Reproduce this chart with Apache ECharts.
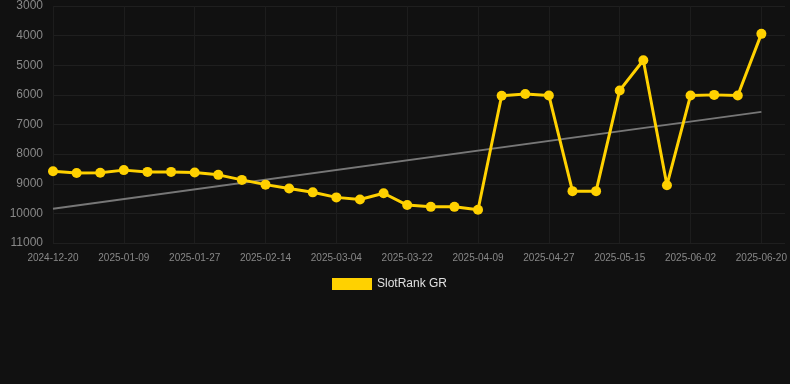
<!DOCTYPE html>
<html>
<head>
<meta charset="utf-8">
<style>
html,body{margin:0;padding:0;background:#111111;}
#chart{width:790px;height:384px;}
</style>
<script src="https://cdn.jsdelivr.net/npm/echarts@6/dist/echarts.min.js"></script>
</head>
<body>
<div id="chart"></div>
<script>
var dates = ['2024-12-20','2024-12-27','2025-01-03','2025-01-09','2025-01-15','2025-01-21','2025-01-27','2025-02-02','2025-02-08','2025-02-14','2025-02-20','2025-02-26','2025-03-04','2025-03-10','2025-03-16','2025-03-22','2025-03-28','2025-04-03','2025-04-09','2025-04-15','2025-04-21','2025-04-27','2025-05-03','2025-05-09','2025-05-15','2025-05-21','2025-05-27','2025-06-02','2025-06-08','2025-06-14','2025-06-20'];
var rankValues = [8580,8640,8630,8540,8600,8600,8620,8700,8870,9030,9160,9290,9460,9530,9320,9720,9780,9780,9880,6030,5970,6020,9250,9250,5850,4830,9050,6020,6000,6020,3940];
var trendStart = 9845;
var trendEnd = 6574;
var yTicks = [3000,4000,5000,6000,7000,8000,9000,10000,11000];

var trendData = dates.map(function(d, i){
  if (i === 0) return trendStart;
  if (i === dates.length - 1) return trendEnd;
  return null;
});

var chart = echarts.init(document.getElementById('chart'), null, {renderer:'canvas'});
var font = 'Liberation Sans, Arial, sans-serif';
chart.setOption({
  backgroundColor: '#111111',
  animation: false,
  textStyle: {fontFamily: font},
  grid: {left: 53, right: 5, top: 6, bottom: 141, containLabel: false},
  legend: {
    data: [{name: 'SlotRank GR', icon: 'rect'}],
    left: 327,
    top: 273,
    itemWidth: 40,
    itemHeight: 12,
    itemGap: 10,
    textStyle: {color: '#e0e0e0', fontSize: 12, fontFamily: font}
  },
  xAxis: {
    type: 'category',
    data: dates,
    boundaryGap: false,
    max: dates.length,
    axisLine: {show: false},
    axisTick: {show: false},
    axisLabel: {color: '#888888', fontSize: 10, interval: 2, margin: 10, fontFamily: font},
    splitLine: {show: true, interval: 2, lineStyle: {color: '#1d1d1d', width: 1}}
  },
  yAxis: {
    type: 'value',
    inverse: true,
    min: yTicks[0],
    max: yTicks[yTicks.length - 1],
    interval: 1000,
    axisLine: {show: false},
    axisTick: {show: false},
    axisLabel: {color: '#888888', fontSize: 12, margin: 10, fontFamily: font, formatter: function(v){ return String(v); }},
    splitLine: {show: true, lineStyle: {color: '#1f1f1f', width: 1}}
  },
  series: [
    {
      name: 'SlotRank GR',
      type: 'line',
      data: rankValues,
      symbol: 'circle',
      symbolSize: 10,
      lineStyle: {color: '#FFD100', width: 3},
      itemStyle: {color: '#FFD100'},
      z: 3
    },
    {
      name: 'trend',
      type: 'line',
      data: trendData,
      connectNulls: true,
      symbol: 'none',
      lineStyle: {color: '#777777', width: 2},
      itemStyle: {color: '#777777'},
      z: 2
    }
  ]
});
</script>
</body>
</html>
